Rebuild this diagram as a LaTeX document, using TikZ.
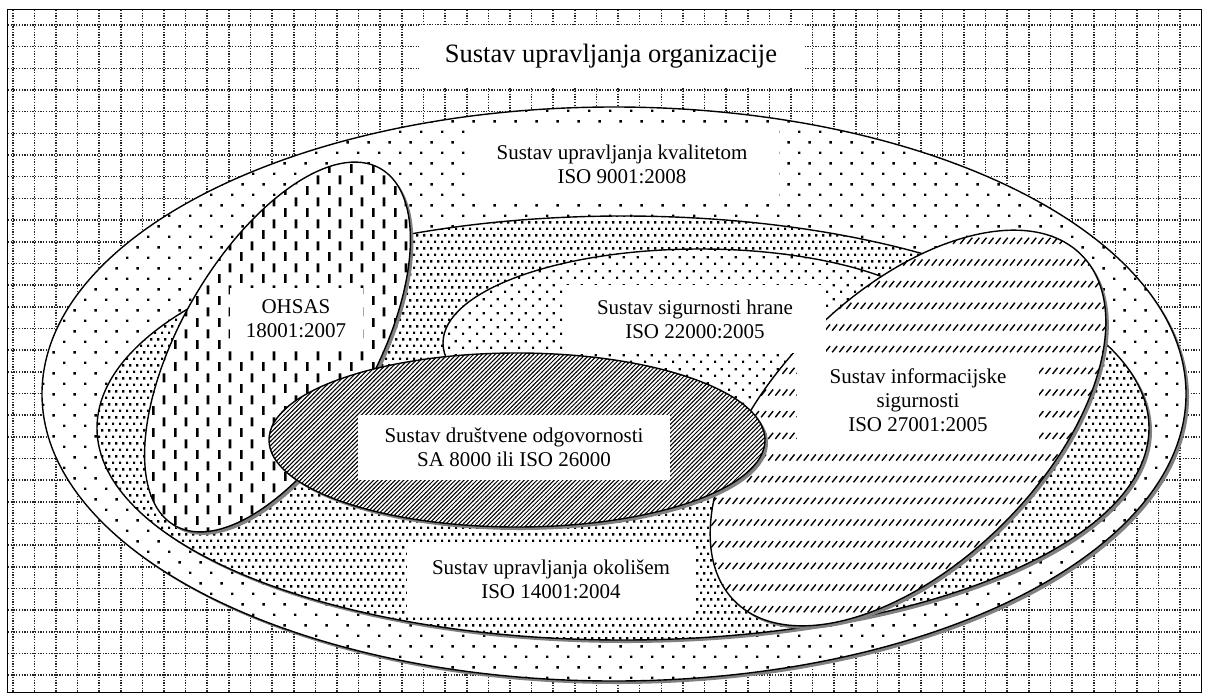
\documentclass[tikz,border=0pt]{standalone}
\usepackage{fontspec}
\setmainfont{Liberation Serif}
\usetikzlibrary{patterns}
\definecolor{shadowc}{HTML}{808080}
% quality: sparse staggered dots
\pgfdeclarepatternformonly{qdots}{\pgfpointorigin}{\pgfpoint{21.33pt}{21.33pt}}{\pgfpoint{21.33pt}{21.33pt}}{%
 \pgfpathrectangle{\pgfpoint{0pt}{0pt}}{\pgfpoint{2.5pt}{2.5pt}}%
 \pgfpathrectangle{\pgfpoint{10.67pt}{10.67pt}}{\pgfpoint{2.5pt}{2.5pt}}%
 \pgfusepath{fill}}
% food: medium dots
\pgfdeclarepatternformonly{fdots}{\pgfpointorigin}{\pgfpoint{14pt}{14pt}}{\pgfpoint{14pt}{14pt}}{%
 \pgfpathrectangle{\pgfpoint{0pt}{0pt}}{\pgfpoint{2.4pt}{2.4pt}}%
 \pgfpathrectangle{\pgfpoint{7pt}{7pt}}{\pgfpoint{2.4pt}{2.4pt}}%
 \pgfusepath{fill}}
% environment: dense dots
\pgfdeclarepatternformonly{edots}{\pgfpointorigin}{\pgfpoint{7pt}{13.4pt}}{\pgfpoint{7pt}{13.4pt}}{%
 \pgfpathrectangle{\pgfpoint{0pt}{0pt}}{\pgfpoint{2.5pt}{2.5pt}}%
 \pgfpathrectangle{\pgfpoint{3.5pt}{6.7pt}}{\pgfpoint{2.5pt}{2.5pt}}%
 \pgfusepath{fill}}
% social: dense upward diagonal lines
\pgfdeclarepatternformonly{sohatch}{\pgfpoint{-1pt}{-1pt}}{\pgfpoint{5.3pt}{5.3pt}}{\pgfpoint{4.3pt}{4.3pt}}{%
 \pgfsetlinewidth{1.0pt}%
 \pgfpathmoveto{\pgfpoint{-0.2pt}{-0.2pt}}\pgfpathlineto{\pgfpoint{4.5pt}{4.5pt}}%
 \pgfusepath{stroke}}
% information: dashed upward diagonal
\pgfdeclarepatternformonly{infodash}{\pgfpoint{-1pt}{-1pt}}{\pgfpoint{7pt}{8pt}}{\pgfpoint{7.11pt}{21.67pt}}{%
 \pgfsetlinewidth{1.4pt}%
 \pgfpathmoveto{\pgfpoint{0.3pt}{0pt}}\pgfpathlineto{\pgfpoint{5.3pt}{6.2pt}}%
 \pgfusepath{stroke}}
% OHSAS: dashed vertical
\pgfdeclarepatternformonly{ohsasdash}{\pgfpointorigin}{\pgfpoint{21.67pt}{21.67pt}}{\pgfpoint{21.67pt}{21.67pt}}{%
 \pgfpathrectangle{\pgfpoint{0pt}{0pt}}{\pgfpoint{2.7pt}{9pt}}%
 \pgfpathrectangle{\pgfpoint{10.83pt}{10.83pt}}{\pgfpoint{2.7pt}{9pt}}%
 \pgfusepath{fill}}
\newcommand{\myell}[6]{%
 \begin{scope}[shift={(3,3)}]\fill[shadowc, rotate around={#5:(#1,#2)}] (#1,#2) ellipse [x radius=#3, y radius=#4];\end{scope}
 \fill[white, rotate around={#5:(#1,#2)}] (#1,#2) ellipse [x radius=#3, y radius=#4];
 \draw[ellline, pattern=#6, rotate around={#5:(#1,#2)}] (#1,#2) ellipse [x radius=#3, y radius=#4];
}
\begin{document}
\begin{tikzpicture}[x=1pt, y=-1pt,
  gridline/.style={line width=1.6pt, draw=black!85, dash pattern=on 1.3pt off 1.4pt},
  ellline/.style={draw=black, line width=1.4pt},
  lbl/.style={fill=white, inner sep=0pt, align=center, font=\fontsize{21}{24}\selectfont},
  ttl/.style={fill=white, inner sep=0pt, align=center, font=\fontsize{26.5}{30}\selectfont}]
\useasboundingbox (0,0) rectangle (1209,699);
% background grid
\begin{scope}
\clip (8,10) rectangle (1201,692);
\foreach \i in {0,...,54} \draw[gridline] ({12.7+21.62*\i},10) -- ({12.7+21.62*\i},692);
\foreach \j in {0,...,30} \draw[gridline] (8,{25+21.67*\j}) -- (1201,{25+21.67*\j});
\end{scope}
% ellipses
\myell{614}{394}{572}{287}{0}{qdots}
\myell{623}{428}{526}{212}{0}{edots}
\myell{700}{343}{257}{94}{0}{fdots}
\myell{908}{428}{245}{135}{45}{infodash}
\myell{277.5}{347}{206}{97}{60}{ohsasdash}
\myell{517}{440}{248}{87}{0}{sohatch}
% labels
\node[ttl, minimum width=384, minimum height=63] (title) at (611,56) {Sustav upravljanja organizacije};
\node[lbl, minimum width=313, minimum height=68] (qms) at (622,164) {Sustav upravljanja kvalitetom\\ISO 9001:2008};
\node[lbl, minimum width=133, minimum height=62] (ohsas) at (296,319) {OHSAS\\18001:2007};
\node[lbl, minimum width=262, minimum height=68] (food) at (695,319) {Sustav sigurnosti hrane\\ISO 22000:2005};
\node[lbl, minimum width=312, minimum height=65] (social) at (514,447) {Sustav društvene odgovornosti\\SA 8000 ili ISO 26000};
\node[lbl, minimum width=289, minimum height=71] (env) at (551,579) {Sustav upravljanja okolišem\\ISO 14001:2004};
\node[lbl, minimum width=242, minimum height=93] (info) at (918,400) {Sustav informacijske\\sigurnosti\\ISO 27001:2005};
% frame
\draw[line width=1.8pt] (7.5,9.5) rectangle (1201.5,692.5);
\end{tikzpicture}
\end{document}
